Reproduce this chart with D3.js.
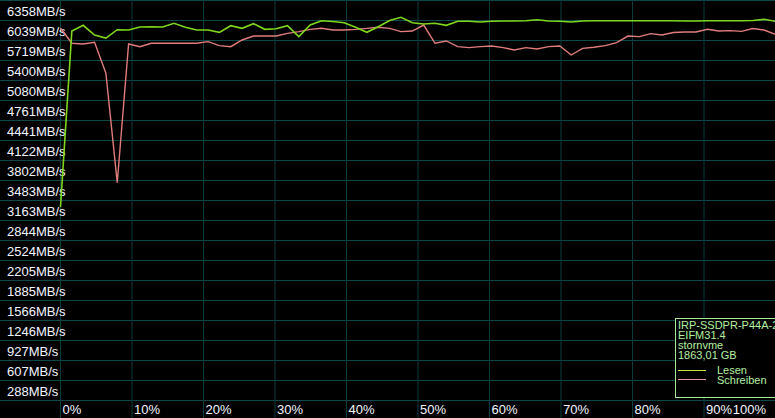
<!DOCTYPE html>
<html><head><meta charset="utf-8">
<script src="https://cdn.jsdelivr.net/npm/d3@7"></script>
<style>html,body{margin:0;padding:0;background:#000;overflow:hidden}svg{display:block}</style>
</head><body>
<script>
const yTickLabels = [288,607,927,1246,1566,1885,2205,2524,2844,3163,3483,3802,4122,4441,4761,5080,5400,5719,6039,6358];
const xTickLabels = [0,10,20,30,40,50,60,70,80,90,100];
const lesen = [3371,6182,6273,6118,6070,6203,6198,6246,6251,6246,6305,6241,6198,6198,6161,6267,6225,6299,6209,6219,6267,6094,6278,6347,6334,6315,6241,6161,6251,6350,6401,6315,6294,6305,6273,6337,6337,6326,6337,6342,6342,6347,6363,6342,6337,6326,6342,6347,6347,6347,6347,6347,6347,6347,6347,6342,6342,6347,6347,6347,6347,6350,6369,6337];
const schreiben = [6230,5986,5975,6002,5507,3759,5975,5932,5986,5986,5986,5986,5986,6012,5948,5932,6039,6102,6102,6102,6145,6172,6209,6225,6198,6198,6209,6225,6241,6225,6172,6182,6278,5986,6023,5932,5916,5932,5943,5916,5879,5916,5895,5932,5943,5799,5905,5922,5948,5996,6102,6092,6140,6118,6158,6166,6166,6209,6182,6188,6177,6222,6198,6126];
const deviceInfo = ["IRP-SSDPR-P44A-2","EIFM31.4","stornvme","1863,01 GB"];
const seriesNames = ["Lesen","Schreiben"];

const W = 775, H = 418;
const yMax = 6677.5;
const svg = d3.select("body").append("svg").attr("width", W).attr("height", H)
  .style("font-family","'Liberation Sans', Arial, sans-serif");
svg.append("rect").attr("width", W).attr("height", H).attr("fill", "#000");

const y = d3.scaleLinear().domain([0, yMax]).range([H, 0]);
const x = d3.scaleLinear().domain([0, 100]).range([60.5, 775.5]);
const n = lesen.length;
const px = i => i * 100 / (n - 1);

const gridH = [yMax].concat(yTickLabels);
svg.append("g").selectAll("line").data(gridH).join("line")
  .attr("x1", 0).attr("x2", W)
  .attr("y1", d => Math.round(y(d)) + 0.5).attr("y2", d => Math.round(y(d)) + 0.5)
  .attr("stroke", "#0f4848").attr("stroke-width", 1);
svg.append("g").selectAll("line").data(xTickLabels).join("line")
  .attr("x1", d => x(d)).attr("x2", d => x(d))
  .attr("y1", 0).attr("y2", H)
  .attr("stroke", "#0b3c3c").attr("stroke-width", 1);

// y labels
svg.append("g").selectAll("text").data(yTickLabels).join("text")
  .attr("x", 7).attr("y", d => Math.round(y(d)) - 4)
  .attr("fill", "#f4f6ff").attr("font-size", 13)
  .text(d => d + "MB/s");

// x labels
const xl = svg.append("g").selectAll("text").data(xTickLabels).join("text")
  .attr("y", 413.5).attr("fill", "#f4f6ff").attr("font-size", 13)
  .text(d => d + "%");
xl.each(function(d){
  const w = this.getComputedTextLength();
  d3.select(this).attr("x", Math.min(x(d) + 2, W - w - 9));
});

const line = d3.line().x((d, i) => x(px(i))).y(d => y(d));
svg.append("path").datum(schreiben).attr("d", line)
  .attr("fill", "none").attr("stroke", "#e07c7c").attr("stroke-width", 1.4);
svg.append("path").datum(lesen).attr("d", line)
  .attr("fill", "none").attr("stroke", "#7fd61c").attr("stroke-width", 1.6);

// legend box
const lg = svg.append("g");
lg.append("rect").attr("x", 675.5).attr("y", 318.5).attr("width", 110).attr("height", 79)
  .attr("fill", "#000").attr("stroke", "#a8e896").attr("stroke-width", 1);
lg.selectAll("text.info").data(deviceInfo).join("text").attr("class","info")
  .attr("x", 678).attr("y", (d, i) => 329 + i * 10)
  .attr("fill", "#b4f0a0").attr("font-size", 11).text(d => d);
const legColors = ["#c4e83a", "#e09a9a"];
lg.selectAll("line.key").data(seriesNames).join("line").attr("class","key")
  .attr("x1", 678).attr("x2", 706)
  .attr("y1", (d, i) => 370.5 + i * 9).attr("y2", (d, i) => 370.5 + i * 9)
  .attr("stroke", (d, i) => legColors[i]).attr("stroke-width", 1);
lg.selectAll("text.key").data(seriesNames).join("text").attr("class","key")
  .attr("x", 717).attr("y", (d, i) => 374 + i * 10)
  .attr("fill", "#b4f0a0").attr("font-size", 11).text(d => d);
</script>
</body></html>
